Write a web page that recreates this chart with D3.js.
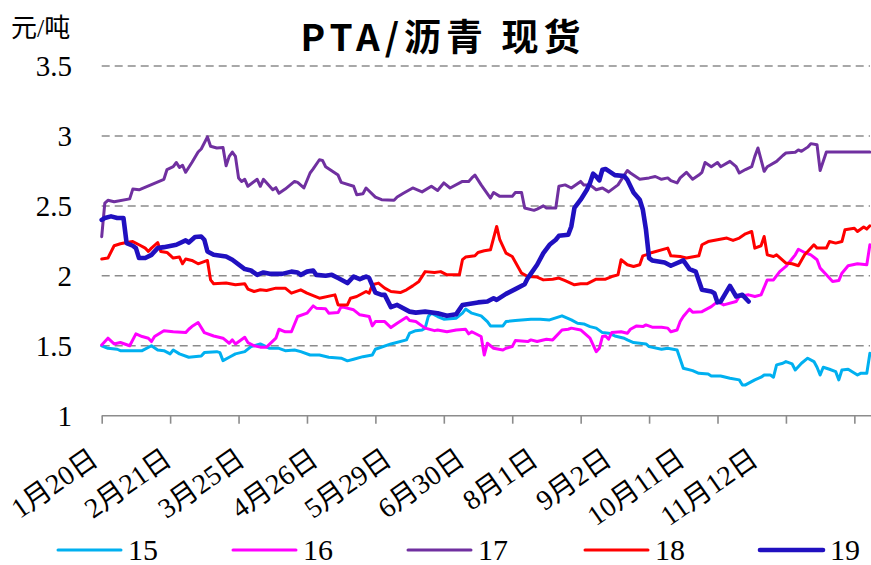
<!DOCTYPE html>
<html>
<head>
<meta charset="utf-8">
<script src="https://cdn.jsdelivr.net/npm/d3@7"></script>
<style>
  html, body { margin: 0; padding: 0; background: #fff; }
  svg { display: block; }
</style>
</head>
<body>
<svg id="chart" width="871" height="565"></svg>
<script>
// PTA / 沥青 spot price ratio, one line per year (trading-day index, ratio)
const yearNames = ["15", "16", "17", "18", "19"];
const yearColors = ["#00B0F0", "#FF00FF", "#7030A0", "#FF0000", "#2010C0"];
const yTicks = [1, 1.5, 2, 2.5, 3, 3.5];
const yTickLabels = ["1", "1.5", "2", "2.5", "3", "3.5"];
const dateLabels = ["1月20日", "2月21日", "3月25日", "4月26日", "5月29日", "6月30日", "8月1日", "9月2日", "10月11日", "11月12日"];
const tickDays = [0, 22, 44, 66, 88, 110, 132, 154, 176, 198, 220, 242];

const s15 = [[0,1.50],[2,1.482],[5,1.475],[6,1.465],[13,1.465],[16,1.50],[18,1.47],[20,1.465],[22,1.442],[23,1.47],[25,1.442],[28,1.418],[32,1.427],[33,1.451],[37,1.458],[38,1.451],[39,1.394],[41,1.418],[43,1.442],[46,1.458],[48,1.494],[51,1.513],[54,1.482],[57,1.482],[59,1.465],[62,1.47],[64,1.458],[67,1.434],[70,1.434],[73,1.418],[77,1.411],[79,1.392],[81,1.404],[84,1.422],[87,1.434],[88,1.475],[93,1.513],[98,1.542],[99,1.59],[101,1.608],[103,1.613],[104,1.626],[105,1.709],[106,1.733],[108,1.709],[110,1.69],[114,1.697],[116,1.733],[117,1.762],[119,1.733],[122,1.714],[124,1.673],[125,1.642],[129,1.642],[130,1.673],[133,1.68],[138,1.69],[141,1.69],[144,1.685],[148,1.714],[151,1.685],[153,1.661],[155,1.656],[157,1.637],[159,1.626],[161,1.594],[163,1.59],[165,1.57],[168,1.554],[169,1.542],[171,1.523],[175,1.513],[176,1.494],[180,1.475],[182,1.482],[185,1.47],[187,1.339],[190,1.322],[192,1.303],[195,1.298],[196,1.284],[199,1.284],[202,1.268],[205,1.256],[206,1.22],[207,1.22],[210,1.256],[212,1.275],[213,1.291],[215,1.291],[216,1.275],[217,1.363],[219,1.375],[220,1.387],[222,1.37],[223,1.327],[225,1.375],[227,1.411],[229,1.387],[230,1.346],[231,1.291],[232,1.346],[234,1.332],[236,1.315],[237,1.256],[238,1.327],[240,1.332],[243,1.291],[244,1.303],[246,1.303],[247,1.446]];

const s16 = [[0,1.506],[2,1.554],[4,1.513],[6,1.523],[9,1.50],[11,1.585],[13,1.566],[15,1.554],[16,1.53],[17,1.566],[20,1.608],[23,1.60],[27,1.594],[28,1.618],[29,1.637],[31,1.666],[33,1.594],[36,1.57],[39,1.554],[41,1.518],[42,1.542],[43,1.513],[46,1.561],[47,1.523],[49,1.50],[51,1.49],[53,1.49],[56,1.554],[57,1.618],[59,1.60],[61,1.60],[63,1.709],[66,1.733],[68,1.785],[69,1.769],[72,1.764],[73,1.733],[76,1.737],[77,1.78],[81,1.757],[83,1.721],[86,1.709],[87,1.642],[88,1.673],[91,1.673],[93,1.63],[95,1.661],[98,1.704],[99,1.68],[101,1.673],[104,1.626],[107,1.608],[108,1.613],[111,1.60],[114,1.613],[117,1.618],[118,1.585],[119,1.60],[122,1.566],[123,1.434],[124,1.518],[126,1.482],[129,1.47],[130,1.482],[132,1.494],[133,1.537],[137,1.53],[138,1.542],[140,1.53],[143,1.547],[145,1.542],[148,1.613],[150,1.618],[151,1.626],[154,1.613],[157,1.554],[158,1.506],[159,1.458],[160,1.482],[161,1.566],[162,1.57],[163,1.547],[164,1.594],[167,1.60],[169,1.589],[170,1.618],[172,1.642],[174,1.637],[175,1.649],[177,1.633],[180,1.633],[182,1.626],[183,1.60],[185,1.613],[186,1.673],[187,1.709],[189,1.762],[190,1.74],[193,1.744],[196,1.78],[198,1.816],[200,1.792],[204,1.816],[205,1.852],[208,1.864],[210,1.852],[212,1.864],[214,1.971],[216,1.971],[218,2.03],[220,2.067],[223,2.15],[224,2.19],[226,2.167],[228,2.15],[230,2.115],[231,2.055],[233,2.007],[235,1.96],[237,1.966],[238,2.019],[240,2.072],[243,2.086],[246,2.079],[247,2.222]];

const s17 = [[0,2.28],[1,2.52],[2,2.54],[4,2.53],[9,2.55],[10,2.62],[12,2.615],[20,2.69],[21,2.76],[23,2.78],[24,2.81],[25,2.775],[26,2.79],[27,2.74],[29,2.81],[31,2.885],[32,2.907],[34,2.993],[35,2.926],[37,2.914],[39,2.918],[40,2.787],[41,2.854],[42,2.885],[43,2.854],[44,2.70],[45,2.675],[46,2.69],[47,2.64],[50,2.69],[51,2.64],[52,2.69],[55,2.615],[56,2.63],[57,2.59],[59,2.62],[62,2.675],[63,2.668],[65,2.628],[67,2.735],[68,2.764],[70,2.83],[71,2.825],[72,2.78],[76,2.72],[77,2.668],[81,2.64],[82,2.58],[84,2.587],[85,2.628],[88,2.563],[90,2.544],[94,2.54],[95,2.563],[97,2.59],[100,2.628],[103,2.60],[106,2.64],[108,2.61],[110,2.664],[112,2.628],[116,2.675],[118,2.675],[119,2.70],[120,2.72],[122,2.65],[125,2.556],[126,2.596],[128,2.568],[132,2.568],[133,2.596],[135,2.596],[136,2.485],[139,2.468],[140,2.477],[142,2.50],[143,2.485],[146,2.485],[147,2.64],[149,2.65],[151,2.628],[154,2.675],[155,2.65],[157,2.65],[159,2.615],[161,2.628],[163,2.60],[166,2.65],[169,2.753],[170,2.735],[173,2.69],[176,2.70],[178,2.71],[180,2.69],[182,2.70],[183,2.68],[185,2.664],[186,2.70],[188,2.74],[190,2.69],[192,2.72],[193,2.74],[194,2.81],[196,2.78],[198,2.81],[199,2.78],[202,2.818],[204,2.78],[205,2.735],[207,2.76],[209,2.78],[210,2.854],[211,2.914],[212,2.83],[213,2.747],[214,2.78],[217,2.818],[219,2.86],[220,2.878],[223,2.883],[224,2.90],[225,2.89],[227,2.92],[228,2.945],[230,2.937],[231,2.753],[233,2.885],[247,2.885]];

const s18 = [[0,2.12],[2,2.127],[4,2.215],[6,2.229],[8,2.238],[10,2.245],[12,2.222],[14,2.198],[15,2.174],[16,2.198],[18,2.238],[19,2.174],[21,2.167],[23,2.127],[25,2.134],[26,2.086],[27,2.12],[29,2.11],[31,2.086],[34,2.11],[35,1.971],[36,1.943],[40,1.948],[43,1.936],[46,1.943],[47,1.905],[49,1.888],[51,1.90],[53,1.895],[56,1.912],[59,1.912],[61,1.876],[64,1.90],[66,1.876],[70,1.84],[75,1.864],[76,1.792],[79,1.792],[80,1.84],[82,1.852],[85,1.888],[86,1.876],[87,1.936],[89,1.948],[91,1.912],[93,1.888],[96,1.88],[98,1.90],[100,1.928],[102,1.96],[104,2.03],[107,2.024],[109,2.03],[111,2.007],[115,2.007],[116,2.115],[117,2.134],[120,2.143],[121,2.167],[123,2.179],[125,2.186],[127,2.353],[128,2.258],[130,2.162],[132,2.138],[135,2.019],[137,1.995],[140,1.991],[142,1.971],[145,1.976],[147,1.984],[149,1.966],[152,1.936],[154,1.943],[156,1.943],[159,1.976],[162,1.976],[164,1.995],[166,2.007],[167,2.115],[169,2.079],[171,2.067],[173,2.079],[174,2.143],[175,2.15],[177,2.167],[182,2.198],[183,2.143],[186,2.138],[188,2.127],[192,2.143],[193,2.222],[195,2.245],[198,2.258],[201,2.27],[203,2.253],[205,2.27],[207,2.30],[209,2.317],[210,2.198],[212,2.215],[213,2.281],[214,2.15],[216,2.138],[217,2.15],[220,2.091],[222,2.086],[224,2.072],[226,2.15],[227,2.174],[229,2.222],[230,2.198],[233,2.198],[234,2.245],[236,2.234],[238,2.245],[239,2.33],[242,2.34],[243,2.317],[245,2.349],[246,2.334],[247,2.358]];

const s19 = [[0,2.40],[1,2.413],[3,2.425],[5,2.413],[7,2.413],[8,2.234],[10,2.215],[11,2.198],[12,2.127],[14,2.127],[16,2.15],[18,2.198],[20,2.205],[24,2.222],[27,2.253],[28,2.238],[30,2.277],[32,2.281],[33,2.258],[34,2.174],[36,2.15],[40,2.138],[42,2.115],[46,2.048],[48,2.038],[50,2.007],[52,2.024],[54,2.014],[58,2.014],[61,2.03],[63,2.024],[64,2.007],[66,2.03],[68,2.038],[69,2.007],[72,2.00],[74,2.007],[76,1.984],[79,1.948],[81,1.995],[83,1.976],[85,1.995],[86,1.984],[88,1.88],[90,1.864],[91,1.864],[93,1.776],[95,1.792],[99,1.744],[101,1.737],[104,1.744],[108,1.733],[111,1.714],[114,1.726],[116,1.792],[121,1.81],[124,1.816],[126,1.84],[127,1.828],[130,1.871],[133,1.905],[136,1.94],[137,1.984],[140,2.079],[142,2.162],[144,2.222],[146,2.258],[147,2.286],[150,2.294],[151,2.353],[152,2.485],[154,2.544],[156,2.615],[157,2.664],[158,2.73],[159,2.71],[160,2.682],[161,2.759],[162,2.764],[165,2.72],[168,2.713],[169,2.687],[171,2.596],[173,2.544],[174,2.472],[175,2.33],[176,2.127],[177,2.11],[181,2.095],[183,2.072],[187,2.11],[189,2.048],[191,2.03],[193,1.90],[196,1.888],[197,1.876],[198,1.81],[199,1.816],[202,1.928],[204,1.852],[206,1.864],[208,1.816]];

const seriesData = [s15, s16, s17, s18, s19];
const lineWidths = [3, 3, 3, 3, 4.6];

const svg = d3.select("#chart");
const serif = "'Liberation Serif', 'Noto Sans CJK SC', serif";

const x = d3.scaleLinear().domain([0, 247]).range([101.7, 869.9]);
const y = d3.scaleLinear().domain([1, 3.5]).range([415.7, 66]);
const xLabel = d3.scalePoint().domain(dateLabels).range([100, 760]);

// dashed horizontal gridlines
svg.append("g")
  .selectAll("line")
  .data(yTicks.filter(v => v > 1))
  .join("line")
  .attr("x1", x(0)).attr("x2", 870)
  .attr("y1", d => y(d)).attr("y2", d => y(d))
  .attr("stroke", "#8c8c8c")
  .attr("stroke-width", 1.5)
  .attr("stroke-dasharray", "8,5");

// y-axis labels (no axis line)
const yAxis = d3.axisLeft(y).tickValues(yTicks)
  .tickFormat((d, i) => yTickLabels[i]).tickSize(0).tickPadding(0);
svg.append("g")
  .attr("transform", "translate(72,0)")
  .call(yAxis)
  .call(g => g.select(".domain").remove())
  .call(g => g.selectAll("text")
    .attr("font-family", serif).attr("font-size", 29).attr("fill", "#000")
    .attr("dy", "0.34em"));

// x-axis line and tick marks
const xAxis = d3.axisBottom(x).tickValues(tickDays).tickFormat("").tickSize(8).tickSizeOuter(0);
svg.append("g")
  .attr("transform", `translate(0,${y(1)})`)
  .call(xAxis)
  .call(g => g.select(".domain").attr("stroke", "#8c8c8c").attr("stroke-width", 1.6)
    .attr("d", `M${x(0)},0H871`))
  .call(g => g.selectAll(".tick line").attr("stroke", "#8c8c8c").attr("stroke-width", 1.6));

// rotated date labels
svg.append("g")
  .selectAll("text")
  .data(dateLabels)
  .join("text")
  .attr("transform", d => `translate(${xLabel(d)},463) rotate(-35)`)
  .attr("text-anchor", "end")
  .attr("font-family", serif)
  .attr("font-size", 28)
  .attr("fill", "#000")
  .text(d => d);

// lines
const line = d3.line().x(d => x(d[0])).y(d => y(d[1]));
svg.append("g")
  .selectAll("path")
  .data(seriesData)
  .join("path")
  .attr("d", line)
  .attr("fill", "none")
  .attr("stroke", (d, i) => yearColors[i])
  .attr("stroke-width", (d, i) => lineWidths[i])
  .attr("stroke-linejoin", "round")
  .attr("stroke-linecap", "round");

// legend
const legendX = [58, 233, 408, 585, 760];
const legend = svg.append("g")
  .selectAll("g")
  .data(yearNames)
  .join("g")
  .attr("transform", (d, i) => `translate(${legendX[i]},550)`);
legend.append("line")
  .attr("x1", 0).attr("x2", 63).attr("y1", 0).attr("y2", 0)
  .attr("stroke", (d, i) => yearColors[i])
  .attr("stroke-width", (d, i) => lineWidths[i])
  .attr("stroke-linecap", "round");
legend.append("text")
  .attr("x", 70).attr("dy", "0.34em")
  .attr("font-family", serif).attr("font-size", 30).attr("fill", "#000")
  .text(d => d);

// unit and title
svg.append("text")
  .attr("x", 11).attr("y", 37)
  .attr("font-family", serif).attr("font-size", 26).attr("fill", "#000")
  .text("元/吨");
svg.append("text")
  .attr("x", 443).attr("y", 51)
  .attr("text-anchor", "middle")
  .attr("font-family", "'Noto Sans CJK SC', sans-serif")
  .attr("font-weight", "bold")
  .attr("font-size", 37)
  .attr("letter-spacing", 5)
  .attr("fill", "#000")
  .text("PTA/沥青 现货");
</script>
</body>
</html>
